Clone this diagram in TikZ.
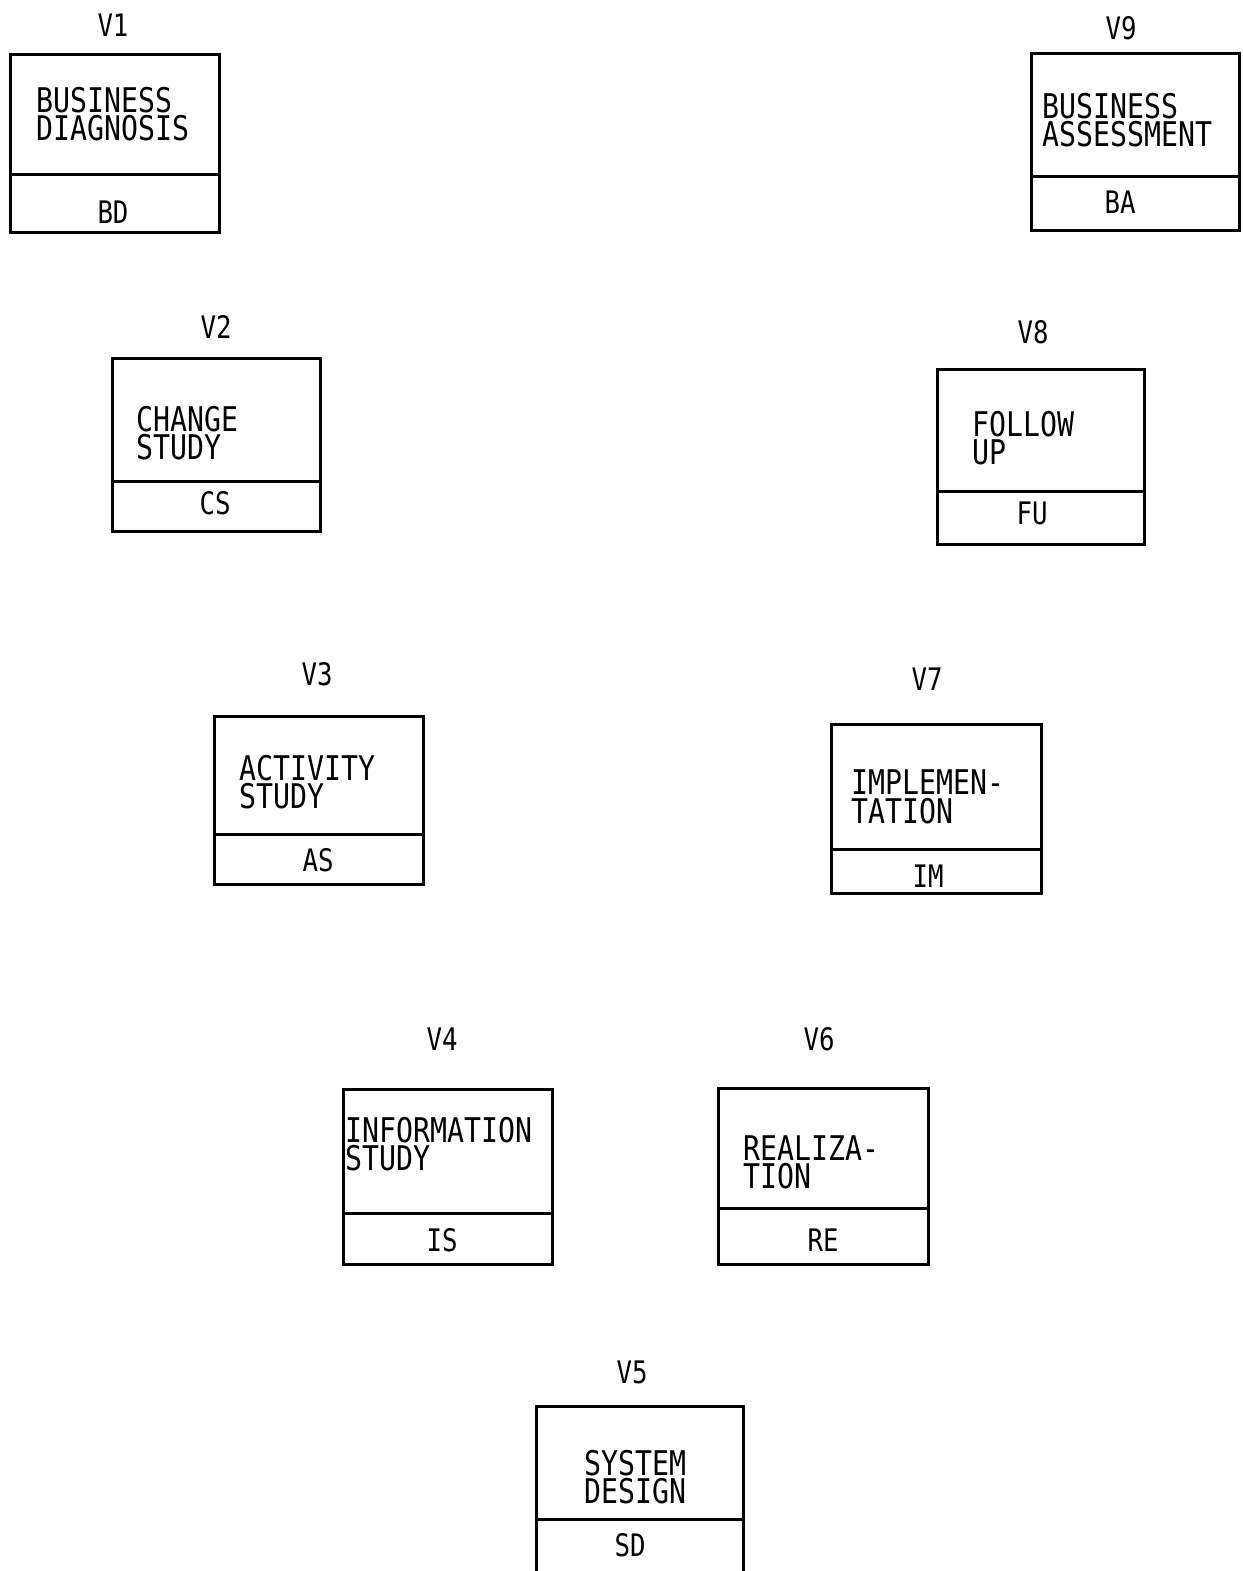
\documentclass[tikz,border=0pt]{standalone}
\usepackage{fontspec}
\newfontfamily\plotfont[FakeStretch=0.83]{DejaVu Sans Mono}
\begin{document}
\begin{tikzpicture}[x=1pt,y=-1pt,
  upper/.style={draw, line width=2.8pt, anchor=north west, inner sep=0pt},
  lower/.style={draw, line width=2.8pt, anchor=north west, inner sep=0pt},
  body/.style={anchor=north west, inner sep=0pt, align=left, font=\plotfont\fontsize{34}{28.5}\selectfont},
  code/.style={inner sep=0pt, font=\plotfont\fontsize{31}{31}\selectfont},
  tag/.style={inner sep=0pt, font=\plotfont\fontsize{31}{31}\selectfont}]
\useasboundingbox[fill=white] (0,0) rectangle (1242,1571);

% V1 BD
\node[upper, minimum width=209pt, minimum height=120pt] (bdU) at (9,53) {};
\node[lower, minimum width=209pt, minimum height=58pt] (bdL) at (9,173) {};
\node[body] (bdT) at (36,87) {BUSINESS\\DIAGNOSIS};
\node[code] (bdC) at (113,212) {BD};
\node[tag] (bdV) at (113,25) {V1};

% V9 BA
\node[upper, minimum width=208pt, minimum height=123pt] (baU) at (1030,52) {};
\node[lower, minimum width=208pt, minimum height=54pt] (baL) at (1030,175) {};
\node[body] (baT) at (1042,93) {BUSINESS\\ASSESSMENT};
\node[code] (baC) at (1120,202) {BA};
\node[tag] (baV) at (1121,28) {V9};

% V2 CS
\node[upper, minimum width=208pt, minimum height=123pt] (csU) at (111,357) {};
\node[lower, minimum width=208pt, minimum height=50pt] (csL) at (111,480) {};
\node[body] (csT) at (136,406) {CHANGE\\STUDY};
\node[code] (csC) at (215,503) {CS};
\node[tag] (csV) at (216,327) {V2};

% V8 FU
\node[upper, minimum width=207pt, minimum height=122pt] (fuU) at (936,368) {};
\node[lower, minimum width=207pt, minimum height=53pt] (fuL) at (936,490) {};
\node[body] (fuT) at (972,411) {FOLLOW\\UP};
\node[code] (fuC) at (1032,513) {FU};
\node[tag] (fuV) at (1033,332) {V8};

% V3 AS
\node[upper, minimum width=209pt, minimum height=118pt] (asU) at (213,715) {};
\node[lower, minimum width=209pt, minimum height=50pt] (asL) at (213,833) {};
\node[body] (asT) at (239,755) {ACTIVITY\\STUDY};
\node[code] (asC) at (318,860) {AS};
\node[tag] (asV) at (317,674) {V3};

% V7 IM
\node[upper, minimum width=210pt, minimum height=125pt] (imU) at (830,723) {};
\node[lower, minimum width=210pt, minimum height=44pt] (imL) at (830,848) {};
\node[body] (imT) at (851,770) {IMPLEMEN-\\TATION};
\node[code] (imC) at (928,876) {IM};
\node[tag] (imV) at (927,679) {V7};

% V4 IS
\node[upper, minimum width=209pt, minimum height=124pt] (isU) at (342,1088) {};
\node[lower, minimum width=209pt, minimum height=51pt] (isL) at (342,1212) {};
\node[body] (isT) at (345,1117) {INFORMATION\\STUDY};
\node[code] (isC) at (442,1240) {IS};
\node[tag] (isV) at (442,1039) {V4};

% V6 RE
\node[upper, minimum width=210pt, minimum height=120pt] (reU) at (717,1087) {};
\node[lower, minimum width=210pt, minimum height=56pt] (reL) at (717,1207) {};
\node[body] (reT) at (743,1135) {REALIZA-\\TION};
\node[code] (reC) at (823,1240) {RE};
\node[tag] (reV) at (819,1039) {V6};

% V5 SD
\node[upper, minimum width=207pt, minimum height=113pt] (sdU) at (535,1405) {};
\node[lower, minimum width=207pt, minimum height=53pt] (sdL) at (535,1518) {};
\node[body] (sdT) at (584,1450) {SYSTEM\\DESIGN};
\node[code] (sdC) at (630,1545) {SD};
\node[tag] (sdV) at (632,1372) {V5};
\end{tikzpicture}
\end{document}
